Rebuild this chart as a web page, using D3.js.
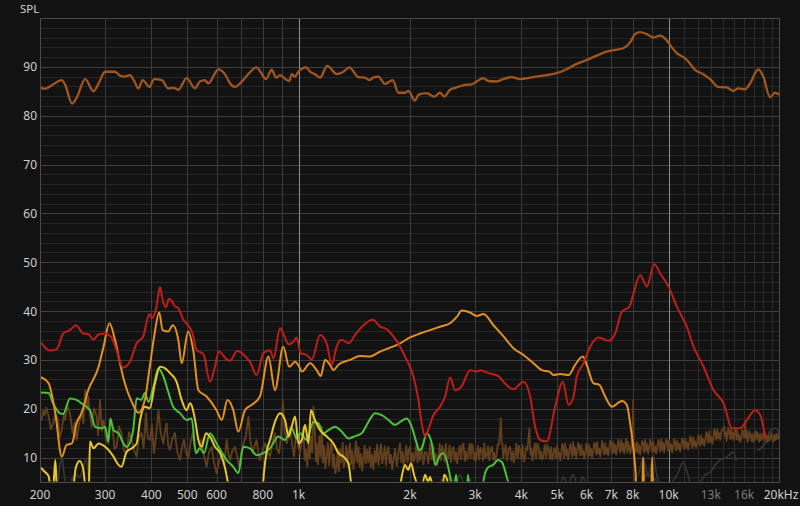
<!DOCTYPE html>
<html><head><meta charset="utf-8">
<script src="https://cdn.jsdelivr.net/npm/d3@7"></script>
<style>html,body{margin:0;padding:0;background:#121212;}svg{display:block}</style>
</head><body><svg id="c" width="800" height="506"></svg>
<script>
// ---- tick labels ----
const yTicks=[10,20,30,40,50,60,70,80,90];
const xTicks=[200,300,400,500,600,800,1000,2000,3000,4000,5000,6000,7000,8000,10000,13000,16000,20000];
const xTickText=["200","300","400","500","600","800","1k","2k","3k","4k","5k","6k","7k","8k","10k","13k","16k","20kHz"];
const dimTicks=[13000,16000];
const gridLow=[200,300,400,500,600,700,800,900,1000];
const gridMid=[2000,3000,4000,5000,6000,7000,8000,9000,10000];
const gridHigh=[11000,12000,13000,14000,15000,16000,17000,18000,19000];
const brightGrid=[1000,10000];

// ---- series [Hz, dB SPL] ----
const mainResp=[[200,85.8],[206,85.5],[217,86.4],[229,87.3],[234,86.3],[244,82.5],[251,83.6],[265,87.5],[279,85.0],[288,86.6],[300,89.0],[319,89.0],[329,88.2],[339,88.0],[350,88.3],[360,87.0],[369,85.6],[379,87.3],[395,85.9],[407,87.5],[427,87.3],[444,85.6],[459,85.7],[473,85.3],[498,87.7],[525,85.6],[541,87.0],[558,87.3],[570,86.6],[607,89.5],[632,88.5],[653,86.6],[673,85.9],[702,87.0],[731,88.5],[770,89.9],[790,88.9],[816,87.5],[846,89.4],[869,87.8],[891,88.3],[929,87.3],[944,87.1],[958,88.5],[978,88.0],[998,89.0],[1047,89.9],[1074,89.0],[1107,88.5],[1143,87.8],[1195,90.2],[1268,88.5],[1316,88.9],[1371,89.9],[1450,87.9],[1511,87.8],[1552,87.3],[1592,87.8],[1642,88.0],[1711,86.5],[1796,87.3],[1860,84.7],[1939,84.7],[1979,85.1],[2063,83.1],[2110,84.3],[2218,84.6],[2327,83.9],[2410,84.7],[2476,83.9],[2565,85.3],[2702,85.9],[2817,86.3],[2937,86.4],[3030,87.0],[3156,87.7],[3256,87.1],[3431,87.0],[3575,87.5],[3768,87.9],[3966,87.5],[4308,87.9],[4684,88.3],[4984,88.7],[5302,89.5],[5643,90.6],[6006,91.4],[6392,92.3],[6730,93.0],[7088,93.4],[7543,93.8],[7866,95.0],[8112,96.7],[8372,97.1],[8724,96.7],[9092,96.0],[9480,96.4],[9780,95.8],[10088,94.5],[10518,92.8],[10958,92.0],[11238,91.3],[11784,89.4],[12410,88.5],[12942,87.5],[13624,85.9],[14354,85.8],[14958,85.1],[15430,85.6],[16086,85.4],[16600,86.6],[17476,89.5],[18028,88.0],[18800,83.8],[19388,84.7],[20000,84.2]];

const redResp=[[202,33.4],[213,31.9],[222,32.2],[231,35.4],[241,36.1],[250,37.1],[262,35.4],[270,35.3],[279,34.2],[288,35.2],[300,35.4],[312,34.6],[323,31.7],[335,28.4],[350,29.6],[365,33.4],[380,34.8],[395,39.4],[401,38.5],[412,40.5],[422,44.9],[430,42.0],[438,40.8],[446,42.5],[455,42.0],[463,41.0],[473,40.6],[488,38.2],[503,37.1],[517,35.4],[530,32.0],[553,31.2],[576,25.5],[594,28.6],[609,31.7],[639,30.1],[652,29.8],[683,31.8],[716,30.8],[739,29.6],[770,26.9],[803,31.4],[837,32.0],[855,30.3],[891,36.5],[913,35.0],[939,33.2],[968,33.7],[988,34.6],[1013,31.4],[1051,31.0],[1085,30.1],[1143,35.1],[1191,33.4],[1229,29.0],[1267,32.7],[1308,34.1],[1364,33.4],[1421,35.1],[1497,37.1],[1587,38.2],[1660,36.8],[1730,36.3],[1804,34.8],[1880,32.7],[1959,30.0],[2043,26.6],[2108,21.8],[2152,17.0],[2197,14.3],[2255,16.3],[2314,18.7],[2412,20.4],[2488,22.5],[2567,26.4],[2648,23.8],[2761,24.7],[2907,27.9],[3030,27.6],[3094,27.9],[3260,27.3],[3469,26.7],[3578,25.5],[3808,24.0],[4053,25.5],[4224,22.5],[4358,16.3],[4496,13.6],[4684,13.3],[4935,20.4],[5178,25.5],[5365,20.8],[5533,22.5],[5646,26.6],[5888,29.3],[6137,32.7],[6466,34.6],[6882,33.9],[7171,35.4],[7476,39.9],[7833,40.9],[8038,43.6],[8379,47.4],[8731,45.0],[9142,49.6],[9490,47.7],[9998,45.0],[10524,40.9],[11200,36.8],[11679,32.7],[12429,28.6],[13228,23.8],[14077,21.1],[14829,16.0],[15616,16.0],[16272,17.7],[17144,19.7],[17687,18.7],[18246,14.3]];

const orangeResp=[[202,26.4],[211,25.2],[220,19.1],[229,10.2],[236,12.6],[244,12.9],[251,17.0],[259,19.1],[270,23.8],[288,28.6],[297,32.7],[308,37.5],[319,34.1],[329,29.3],[339,25.2],[354,21.4],[369,19.2],[384,21.8],[396,28.6],[407,34.8],[420,39.7],[429,36.1],[444,35.8],[457,37.1],[473,34.1],[483,29.3],[503,35.8],[519,32.0],[536,23.8],[564,22.5],[600,19.7],[620,17.7],[642,21.8],[666,19.7],[687,15.3],[716,19.7],[747,20.8],[786,22.5],[829,30.7],[863,23.8],[909,32.7],[943,28.6],[978,29.6],[1004,28.6],[1020,27.6],[1074,29.3],[1119,27.9],[1148,26.7],[1179,30.0],[1216,29.0],[1242,27.9],[1281,29.0],[1377,30.0],[1466,30.8],[1560,30.7],[1660,31.7],[1767,32.5],[1880,33.4],[2000,34.6],[2130,35.4],[2266,36.1],[2412,36.8],[2567,37.5],[2675,38.8],[2761,40.1],[2907,39.7],[3030,39.0],[3159,39.4],[3362,37.1],[3578,34.8],[3808,32.4],[4053,31.0],[4313,29.3],[4543,27.9],[4760,27.6],[4885,26.9],[5092,27.1],[5365,26.9],[5590,29.0],[5865,30.7],[6009,29.0],[6266,25.2],[6498,24.9],[6738,22.5],[7025,20.4],[7476,21.6],[7708,20.8],[7873,17.0],[8038,11.6],[8122,8.1],[8223,2.0],[8483,2.0],[8536,10.0],[8590,2.0],[8972,2.0],[9029,10.0],[9085,2.0]];

const yellowResp=[[202,7.8],[206,7.1],[211,6.2],[214,3.5],[217,3.5],[220,9.5],[222,4.0],[226,2.0],[244,2.0],[250,8.0],[256,9.3],[262,7.5],[266,3.5],[271,4.0],[273,13.3],[279,11.9],[288,12.9],[300,12.2],[316,10.2],[326,8.5],[332,8.1],[343,11.2],[354,11.9],[365,12.9],[373,17.7],[384,20.4],[396,20.1],[409,25.2],[422,28.6],[435,28.3],[449,27.3],[468,25.5],[483,21.8],[498,19.7],[509,21.1],[525,17.7],[536,13.6],[547,12.2],[562,15.0],[576,14.3],[594,12.2],[613,11.0],[632,8.0],[648,4.0],[665,2.0],[796,2.0],[806,7.0],[821,11.5],[837,13.6],[863,17.3],[891,19.1],[919,17.7],[939,14.3],[958,16.3],[978,18.4],[999,12.9],[1020,13.6],[1041,16.7],[1063,12.9],[1080,19.7],[1107,17.7],[1143,15.6],[1191,14.3],[1242,12.9],[1281,10.9],[1321,10.2],[1364,8.8],[1383,5.4],[1403,2.0],[1857,2.0],[1904,6.5],[1940,8.5],[1976,7.5],[2013,8.8],[2051,6.5],[2090,4.5],[2130,2.0],[2197,6.5],[2238,5.0],[2266,6.0],[2295,4.5],[2323,2.0],[2442,2.0],[2473,6.5],[2519,5.5],[2551,2.0]];

const greenResp=[[202,23.3],[211,23.2],[217,21.1],[226,19.1],[231,18.9],[241,22.1],[251,21.8],[262,20.8],[273,19.7],[282,16.3],[294,16.0],[300,16.3],[306,13.3],[310,18.0],[316,15.6],[326,15.0],[336,12.9],[343,12.2],[357,15.6],[365,22.1],[376,21.8],[384,23.2],[393,21.4],[405,24.5],[418,28.3],[431,26.6],[444,23.5],[458,20.4],[478,19.1],[498,17.7],[514,18.0],[528,10.9],[541,11.9],[555,10.9],[576,15.0],[600,12.9],[639,9.5],[666,8.1],[687,6.8],[709,12.2],[739,11.9],[770,10.5],[803,10.9],[837,11.9],[882,14.3],[919,13.6],[958,16.0],[988,13.9],[1009,15.0],[1051,13.6],[1096,17.3],[1131,17.0],[1167,15.0],[1204,15.6],[1255,16.3],[1308,15.3],[1364,13.9],[1421,14.4],[1481,15.0],[1544,17.3],[1609,19.1],[1678,18.7],[1749,17.7],[1823,16.7],[1880,17.3],[1959,18.0],[2022,16.3],[2085,12.9],[2116,11.5],[2152,11.9],[2219,15.0],[2291,12.9],[2338,8.5],[2412,10.5],[2463,10.9],[2541,7.8],[2583,5.0],[2615,2.0],[2665,6.5],[2698,2.0],[2836,2.0],[2871,6.5],[2907,2.0],[3113,2.0],[3172,6.0],[3252,8.0],[3355,8.5],[3461,9.5],[3548,9.0],[3638,6.5],[3730,3.5],[3800,2.0]];

const noiseFloor=[[202,17.7],[204,19.6],[206,18.7],[208,20.2],[211,18.4],[214,15.8],[217,16.9],[220,19.0],[224,17.7],[226,14.2],[229,15.6],[232,18.8],[234,17.7],[237,20.5],[241,19.1],[245,15.0],[248,17.2],[251,13.6],[255,16.8],[259,19.4],[262,17.0],[265,23.8],[268,20.0],[270,22.5],[273,18.8],[276,16.3],[280,20.1],[284.5,18.4],[287,14.6],[290.5,21.8],[294,15.5],[297,17.7],[301,14.0],[306,12.9],[310,17.5],[314,16.3],[318,11.8],[322,12.2],[327,16.4],[332,15.0],[337,11.4],[343,10.9],[348,15.2],[354,13.6],[359,11.5],[365,10.2],[370,14.2],[376.5,15.0],[381,12.0],[387,19.1],[391,14.0],[396.5,13.6],[401,16.8],[406.5,10.9],[412,14.5],[418,19.7],[424,15.0],[431,12.9],[435,15.4],[440,17.0],[444,12.5],[449,11.6],[456,13.9],[463,15.0],[470,11.2],[478,9.5],[484,12.0],[490,13.6],[497,10.8],[503.5,9.9],[510,13.0],[517,15.0],[523,12.3],[530,10.9],[539,12.0],[547,13.6],[555,10.4],[564,8.1],[572,11.0],[582,12.2],[590,9.2],[600,6.8],[610,9.4],[620,10.9],[630,8.8],[639,13.6],[646,10.8],[652.5,9.5],[662,11.4],[673,12.2],[682,10.3],[691,8.1],[700,11.2],[709,12.9],[720,14.4],[731.6,18.4],[741,13.2],[751.6,10.9],[760,12.4],[770,13.6],[778,11.0],[786.5,9.5],[798,11.4],[811,12.9],[824,11.2],[837,10.2],[850,13.1],[863,15.0],[874,11.8],[886,10.9],[896,14.4],[906,21.8],[916,15.7],[928,12.9],[938,14.1],[948,16.3],[960,12.7],[972,10.2],[980,13.5],[988,15.0],[998,12.1],
[1009,10.9],[1019,13.2],[1030,16.3],[1038,9.5],[1046,11.6],[1055,8.2],[1063,12.9],[1072,9.8],[1080,14.3],[1088,11.0],[1096,20.4],[1107,14.8],[1113,9.3],[1119,12.9],[1128,8.6],[1137,14.4],[1146,10.2],[1155,16.3],[1163,9.0],[1172,12.4],[1181,7.8],[1191,10.2],[1200,13.0],[1210,8.4],[1219,12.0],[1229,13.6],[1238,8.0],[1247,10.6],[1257,6.8],[1267,8.1],[1275,11.5],[1285,7.2],[1294,11.6],[1305,9.0],[1315,13.0],[1325,8.0],[1335,9.5],[1345,12.4],[1356,8.3],[1366,11.4],[1377,12.9],[1385,8.6],[1395,11.4],[1406,7.6],[1417,10.2],[1428,13.3],[1440,9.0],[1451,12.2],[1462,8.2],[1474,10.8],[1485,7.4],[1497,9.5],[1508,12.5],[1520,8.8],[1532,11.6],[1544,9.0],[1556,12.2],[1568,8.0],[1580,10.6],[1593,7.6],[1605,11.4],[1618,9.0],[1631,12.7],[1644,8.4],[1657,10.9],[1670,12.7],[1683,8.8],[1695,10.2],[1709,12.3],[1722,8.4],[1735,11.3],[1749,12.2],[1762,8.8],[1776,10.6],[1790,7.6],[1804,9.4],[1823,11.8],[1842,8.2],[1861,11.0],[1880,12.9],[1895,9.0],[1910,11.2],[1925,8.2],[1940,10.2],[1955,12.4],[1970,9.0],[1985,11.6],[2001,12.2],[2016,8.6],[2032,11.0],[2048,9.2],[2063,10.2],[2080,12.6],[2096,9.0],[2113,11.9],[2130,9.4],[2152,12.4],[2175,8.6],[2197,11.2],[2219,10.9],[2242,8.8],[2266,12.8],[2290,9.6],[2314,12.2],[2332,9.2],[2350,10.8],[2369,8.4],[2388,10.2],[2406,12.8],[2425,9.4],[2444,12.4],[2463,11.6],[2481,9.2],[2500,12.8],[2520,9.6],[2541,10.2],[2560,12.5],[2580,9.0],[2600,11.4],[2621,12.2],[2641,9.4],[2662,11.2],[2683,8.8],[2705,10.9],[2726,12.4],[2747,9.6],[2768,12.4],[2789,12.9],[2811,9.3],[2833,11.3],[2855,9.6],[2878,10.9],[2897,12.8],[2917,9.8],[2937,12.8],[2957,12.2],[2975,9.6],[2993,11.0],[3012,9.2],[3030,10.5],[3054,12.4],[3078,9.6],[3102,12.0],[3127,11.6],[3151,9.4],[3175,12.9],[3199,10.0],[3224,10.2],[3250,12.3],[3276,9.4],[3302,11.8],[3328,12.2],[3354,9.6],[3380,11.1],[3405,9.2],[3431,10.9],[3453,12.8],[3475,12.6],[3497,14.5],[3520,18.0],[3538,13.0],[3556,12.8],[3575,9.8],[3593,10.9],[3626,12.6],[3660,9.4],[3695,11.8],[3730,12.2],[3759,9.4],[3788,11.3],[3817,9.0],[3847,10.5],[3877,12.8],[3907,9.8],[3938,12.4],[3969,11.6],[4000,9.6],[4031,12.6],[4063,9.2],[4095,10.2],[4122,12.2],[4150,11.6],[4176,13.5],[4203,16.0],[4230,10.6],[4258,11.9],[4285,9.4],[4313,10.9],[4347,12.9],[4381,9.8],[4416,12.9],[4451,12.2],[4485,9.8],[4520,11.3],[4555,9.6],[4590,10.5],[4627,12.6],[4663,10.0],[4700,12.6],[4736,11.6],[4770,9.8],[4805,12.2],[4840,9.6],[4874,10.2],[4905,12.0],[4935,11.5],[4966,9.8],[4997,12.6],[5028,10.2],[5060,11.1],[5092,9.4],[5123,10.5],[5156,12.8],[5188,12.4],[5220,10.0],[5253,12.9],[5285,10.4],[5318,11.6],[5351,9.6],[5385,10.9],[5419,12.8],[5453,12.0],[5487,10.2],[5521,13.2],[5556,10.6],[5590,12.1],[5625,9.8],[5660,11.2],[5695,13.0],[5731,12.4],[5767,10.4],[5803,12.6],[5839,10.6],[5875,11.4],[5912,9.8],[5949,10.5],[5986,12.8],[6024,11.8],[6061,10.2],[6099,12.6],[6137,10.4],[6176,11.8],[6214,10.0],[6253,11.2],[6292,13.0],[6331,12.8],[6370,10.6],[6410,13.2],[6450,10.8],[6490,11.9],[6531,10.2],[6572,11.2],[6613,13.4],[6655,12.3],[6697,10.6],[6738,12.9],[6780,10.8],[6822,12.0],[6865,10.4],[6908,11.6],[6951,13.4],[6995,12.8],[7038,10.8],[7082,13.2],[7127,11.0],[7171,12.6],[7216,10.6],[7261,11.9],[7307,13.6],[7352,12.7],[7398,11.0],[7444,13.6],[7491,11.4],[7538,12.9],[7585,10.8],[7632,12.2],[7668,13.8],[7703,12.9],[7739,11.0],[7775,13.2],[7811,11.6],[7848,12.3],[7885,10.8],[7922,11.9],[7960,13.6],[7990,13.0],[8021,21.8],[8046,13.4],
[8071,12.2],[8108,10.8],[8146,12.8],[8185,11.2],[8223,13.2],[8275,11.0],[8327,12.5],[8379,10.6],[8431,12.0],[8484,13.4],[8537,13.1],[8590,11.0],[8643,13.6],[8697,11.4],[8752,12.8],[8806,10.8],[8861,12.0],[8917,13.6],[8973,12.9],[9029,11.0],[9085,13.2],[9142,11.2],[9199,12.3],[9256,10.8],[9314,11.8],[9372,13.6],[9431,13.1],[9490,11.2],[9549,13.8],[9609,11.6],[9669,13.0],[9729,11.0],[9790,12.4],[9851,13.8],[9913,13.3],[9974,11.4],[10036,13.6],[10099,11.6],[10162,12.7],[10225,11.0],[10289,12.2],[10353,13.8],[10418,12.9],[10483,11.4],[10549,13.4],[10615,11.8],[10681,12.8],[10748,11.2],[10815,12.4],[10883,14.0],[10951,13.2],[11019,11.8],[11088,13.8],[11157,12.0],[11227,13.1],[11297,11.6],[11367,12.8],[11439,14.4],[11510,13.6],[11582,12.0],[11654,14.2],[11727,12.4],[11800,13.3],[11874,12.0],[11948,12.9],[12023,14.6],[12098,13.9],[12174,12.4],[12249,14.6],[12326,12.8],[12403,13.8],[12480,12.4],[12558,13.4],[12637,15.2],[12716,14.6],[12796,13.0],[12875,15.4],[12956,13.2],[13036,14.3],[13117,12.8],[13199,13.8],[13282,15.8],[13365,15.1],[13448,13.6],[13532,15.8],[13617,14.0],[13702,15.0],[13788,13.6],[13873,15.2],[14004,15.9],[14135,16.3],[14200,14.4],[14267,15.2],[14334,13.4],[14401,14.3],[14491,16.2],[14582,15.3],[14673,13.8],[14764,16.0],[14834,14.0],[14903,15.1],[14973,13.6],[15043,14.6],[15114,16.0],[15184,15.4],[15255,13.8],[15326,15.6],[15422,13.6],[15519,14.7],[15616,13.2],[15713,13.9],[15812,15.6],[15910,15.2],[16010,14.0],[16109,17.5],[16185,14.0],[16260,15.4],[16336,13.2],[16412,13.9],[16515,15.4],[16619,14.6],[16723,13.4],[16827,14.9],[16933,13.2],[17039,14.1],[17145,15.4],[17251,13.6],[17359,15.2],[17468,14.5],[17577,13.2],[17687,14.9],[17798,13.6],[17909,14.2],[18021,15.2],[18133,13.6],[18246,14.8],[18360,14.3],[18474,13.2],[18589,14.6],[18705,13.4],[18822,14.0],[18940,15.0],[19058,13.9],[19177,13.2],[19297,14.6],[19417,13.6],[19538,14.9],[19653,13.8],[19768,14.2],[19884,15.0],[20000,14.3]];

const grayLow=[[222,2.0],[226.5,8.5],[229.4,10.0],[232,7.0],[235,4.0],[238,2.0],[244,5.5],[250,6.5],[256.5,6.0],[262,8.0],[266,9.5],[270,7.0],[273,2.0]];
const grayMid=[[2369,2.0],[2427,5.5],[2488,4.5],[2567,6.0],[2648,4.0],[2732,6.5],[2817,4.0],[2907,5.5],[3010,2.0],[5028,2.0],[5187,6.0],[5353,4.5],[5521,6.5],[5696,4.0],[5876,6.0],[6061,2.0],[7824,2.0],[8071,5.5],[8327,7.0],[8536,10.1],[8697,7.5],[8806,6.5],[8972,8.5],[9085,10.5],[9256,7.0],[9431,5.0],[9668,4.5],[9912,2.0]];
const grayHigh=[[8172,2.0],[8483,5.0],[8753,6.5],[9029,6.0],[9372,5.0],[9608,5.0],[9976,4.0],[10225,5.0],[10549,6.5],[10950,9.0],[11226,7.0],[11582,4.0],[11873,4.5],[12174,5.0],[12558,6.5],[12956,7.0],[13365,8.5],[13788,9.5],[14311,10.0],[14950,11.1],[15234,9.5]];
const grayTop=[[17476,11.5],[18246,13.0],[18823,15.5],[19388,16.0],[20000,15.0]];

// ---- drawing ----
const svg=d3.select("#c");
const L=40,R=780,T=18,B=482;
const x=d3.scaleLog().domain([200,20000]).range([L,R]);
const y=d3.scaleLinear().domain([5,100]).range([B,T]);

svg.append("rect").attr("width",800).attr("height",506).attr("fill","#121212");

const g=svg.append("g");
const minorY=d3.range(6,100,2).filter(v=>v%10!==0);
g.selectAll(".hm").data(minorY).join("line")
 .attr("x1",L).attr("x2",R).attr("y1",d=>Math.round(y(d))+0.5).attr("y2",d=>Math.round(y(d))+0.5)
 .attr("stroke","#262626").attr("stroke-width",1);
g.selectAll(".hM").data(yTicks).join("line")
 .attr("x1",L).attr("x2",R).attr("y1",d=>Math.round(y(d))+0.5).attr("y2",d=>Math.round(y(d))+0.5)
 .attr("stroke","#3e3e3e").attr("stroke-width",1);
const vlines=[...gridLow.map(f=>[f,"#3a3a3a"]),...gridMid.map(f=>[f,"#3a3a3a"]),...gridHigh.map(f=>[f,"#2c2c2c"])];
g.selectAll(".v").data(vlines).join("line")
 .attr("x1",d=>Math.round(x(d[0]))+0.5).attr("x2",d=>Math.round(x(d[0]))+0.5)
 .attr("y1",T).attr("y2",B)
 .attr("stroke",d=>brightGrid.includes(d[0])?"#8c8c8c":d[1]).attr("stroke-width",1);

svg.append("rect").attr("x",L+0.5).attr("y",T+0.5).attr("width",R-L-1).attr("height",B-T)
 .attr("fill","none").attr("stroke","#4a4a4a");

svg.append("clipPath").attr("id","clp").append("rect").attr("x",L+1).attr("y",T+1).attr("width",R-L-2).attr("height",B-T-1.5);
const plot=svg.append("g").attr("clip-path","url(#clp)");

const smooth=d3.line().x(d=>x(d[0])).y(d=>y(d[1])).curve(d3.curveMonotoneX);
const jag=d3.line().x(d=>x(d[0])).y(d=>y(d[1]));

function draw(data,gen,color,w){
  plot.append("path").datum(data).attr("d",gen).attr("fill","none")
   .attr("stroke",color).attr("stroke-width",w).attr("stroke-linejoin","round").attr("stroke-linecap","round");
}
draw(grayLow,smooth,"#383838",1.6);
draw(grayMid,smooth,"#363636",1.6);
draw(grayHigh,smooth,"#363636",1.6);
draw(grayTop,smooth,"#3a3a3a",1.6);
draw(noiseFloor,jag,"#623f1d",1.8);
draw(greenResp,smooth,"#4cc23a",2);
draw(yellowResp,smooth,"#e6c62b",2);
draw(orangeResp,smooth,"#e39120",2);
draw(redResp,smooth,"#bf1e19",2);
draw(mainResp,smooth,"#a0561e",2.3);

const font="'Noto Sans', 'Open Sans', sans-serif";
svg.append("text").attr("x",20).attr("y",12.5).text("SPL")
 .attr("fill","#cfcfcf").attr("font-family",font).attr("font-size",11.5);
svg.selectAll(".yl").data(yTicks).join("text")
 .attr("x",37).attr("y",d=>y(d)+4.5).attr("text-anchor","end").text(d=>d)
 .attr("fill","#cfcfcf").attr("font-family",font).attr("font-size",12);
svg.selectAll(".xl").data(xTicks).join("text")
 .attr("x",(d,i)=>x(d)+(i===xTicks.length-1?1:0)).attr("y",499).attr("text-anchor","middle")
 .text((d,i)=>xTickText[i])
 .attr("fill",d=>dimTicks.includes(d)?"#7a7a7a":"#cfcfcf").attr("font-family",font).attr("font-size",12);
</script></body></html>
